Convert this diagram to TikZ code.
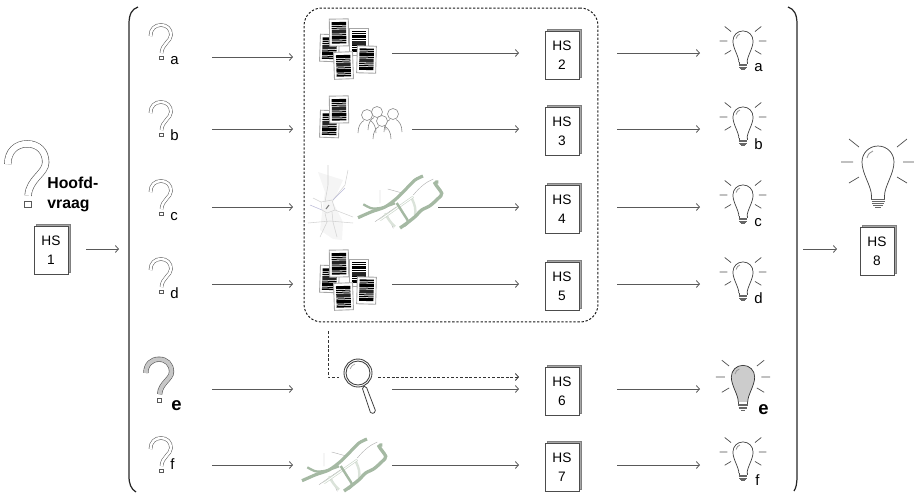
\documentclass[tikz,border=0pt]{standalone}
\usepackage{fontspec}
\setmainfont{Liberation Sans}
\usetikzlibrary{arrows.meta,shadows}
\definecolor{rivergreen}{HTML}{A5B9A3}
\definecolor{roadgray}{HTML}{D2D2D2}
\tikzset{
    flow/.style={draw=black!65, line width=0.45pt, -{Straight Barb[length=1.8pt,width=4pt]}},
    dashlink/.style={draw=black!80, line width=0.45pt, dash pattern=on 1.6pt off 1pt},
    hsbox/.style={draw=black!70, fill=white, line width=0.45pt, minimum width=0.68cm, minimum height=0.96cm,
        inner sep=0pt, align=center, font=\fontsize{7.8}{11}\selectfont, execute at begin node={\rule{0pt}{7.4pt}},
        copy shadow={shadow xshift=0.04cm, shadow yshift=0.04cm, draw=black!50, fill=black!35}},
    lbl/.style={anchor=base west, inner sep=0pt, font=\fontsize{8.5}{10}\selectfont},
    lblbold/.style={lbl, font=\fontsize{10.5}{12}\selectfont\bfseries},
    qtube/.style={draw=black!65, line width=0.3pt, double=white, double distance=0.05cm},
    bulbglass/.style={draw=black!75, line width=0.4pt, fill=white},
    qmark/.pic={
        \draw[qtube] (1.5,12) .. controls (1.5,5) and (6,1) .. (12,1) .. controls (18,1) and (22,5) .. (22,11)
            .. controls (22,17) and (13,20) .. (12.5,29);
        \draw[draw=black!65, line width=0.3pt] (10.5,32) rectangle (14,35.5);
    },
    bulb/.pic={
        \draw[bulbglass] (-6.5,34) .. controls (-6.5,24) and (-16,12) .. (-16,0)
            .. controls (-16,-9) and (-9,-16) .. (0,-16) .. controls (9,-16) and (16,-9) .. (16,0)
            .. controls (16,12) and (6.5,24) .. (6.5,34);
        \draw[black!70, line width=0.35pt] (-6.5,34) -- (-6.5,37) (6.5,34) -- (6.5,37);
        \foreach \by/\bw in {37/7, 39/6.5, 41/6, 43/5, 45/3}
            \draw[black!60, line width=0.3pt] (-\bw,\by) -- (\bw,\by);
        \draw[black!40, line width=0.5pt] (-11,-4) .. controls (-10,-8) and (-8,-10) .. (-5,-11);
        \draw[black!70, line width=0.4pt] (-37,0) -- (-25,0) (25,0) -- (37,0)
            (-29,-23) -- (-19,-15) (29,-23) -- (19,-15) (-29,21) -- (-19,15) (29,21) -- (19,15);
    },
    docsheet/.pic={
        \draw[draw=black!35, line width=0.5pt, fill=white] (-9.5,-13.5) rectangle (9.5,13.5);
        \foreach \sy/\sh/\sc in {-10.5/3/black, -6.7/1/black, -4.8/1/black, -3/4/black!85, 1.8/1/black, 3.5/3.5/black, 7.8/1/black, 9.5/1.5/black}
            \fill[\sc] (-7.2,\sy) rectangle (7.2,\sy+\sh);
    },
    docstack/.pic={
        \pic[rotate=-2] at (9.5,30) {docsheet};
        \pic[rotate=1] at (19,14.5) {docsheet};
        \pic[yscale=-1] at (39,23.5) {docsheet};
        \pic[rotate=2] at (23.5,47.5) {docsheet};
        \pic[rotate=-1.5,yscale=-1] at (46.5,41.5) {docsheet};
    },
    person/.pic={
        \path[draw=black!45, line width=0.35pt] (-9,18) .. controls (-9,11) and (-6,7) .. (-3,5.5);
        \path[draw=black!45, line width=0.35pt] (3,5.5) .. controls (6,7) and (9,11) .. (9,18);
        \draw[draw=black!45, line width=0.35pt, fill=white] (0,0) circle (5.5);
    },
    greenmap/.pic={
        \draw[black!30, line width=0.25pt] (22,-27) -- (22,-13.7) (29.7,-28) -- (45.3,-23.7)
            (55.3,-22) .. controls (62,-30) and (68,-35) .. (75.3,-38) (17,4.7) -- (38.7,-10.3) (35.3,11.3) -- (29.3,-2);
        \draw[rivergreen!40, line width=1.4pt] (53.7,-18.7) .. controls (57,-12) and (58,-8) .. (57,-2);
        \draw[rivergreen!40, line width=1.4pt] (27,-3.7) .. controls (30,2) and (33,6) .. (37,9.7);
        \draw[rivergreen!60, line width=0.35pt, double=white, double distance=0.02cm] (22,3) -- (55.3,-20.3);
        \draw[rivergreen, line width=1.8pt] plot[smooth] coordinates {(0,0.7) (13.7,-5.3) (27,-10) (38.7,-18.7) (48.7,-28.7) (57,-37) (65,-41)};
        \draw[rivergreen, line width=1.3pt] plot[smooth] coordinates {(5.3,-12.7) (13.7,-8.7) (23.7,-9.3) (37,-13.7)};
        \draw[rivergreen, line width=1.9pt] plot[smooth] coordinates {(42,11) (48.7,6.3) (57,-0.3) (63.7,-7) (72,-11.3) (80.3,-18.7) (83.7,-23.7) (77,-33.7) (80.3,-35)};
        \draw[rivergreen, line width=1.4pt] plot[smooth] coordinates {(38.7,-14) (45,-4) (50,4.7) (46,9)};
    },
}
\begin{document}
\begin{tikzpicture}[x=0.02cm,y=-0.02cm]
\useasboundingbox (0,0) rectangle (914,495);

\draw[black!85, line width=0.7pt] (138,7) .. controls (132,9) and (129,14) .. (129,24) -- (129,476) .. controls (129,484) and (131,489) .. (136,492);
\draw[black!85, line width=0.7pt] (788,7) .. controls (794,9) and (797,14) .. (797,24) -- (797,476) .. controls (797,484) and (796,488) .. (794,491);
\node[draw=black!90, line width=0.55pt, dash pattern=on 1.3pt off 1pt, rounded corners=10pt, minimum width=5.88cm, minimum height=6.28cm, inner sep=0pt] (kader) at (451,165) {};

\pic[scale=1.85, qtube/.style={draw=black!65, line width=0.35pt, double=white, double distance=0.12cm}] at (5,142) {qmark};
\node[anchor=north west, inner sep=0pt, align=left, font=\fontsize{9}{11}\selectfont\bfseries] (hoofd) at (47,177) {Hoofd-\\vraag};
\node[hsbox] (hs1) at (51,250) {HS\\1};
\coordinate (hs1out) at (86,249);
\coordinate (haakin) at (119,249);
\draw[flow] (hs1out) -- (haakin);

\pic at (149,24) {qmark};
\pic at (149,101) {qmark};
\pic at (149,180) {qmark};
\pic at (149,258) {qmark};
\pic[scale=1.25, qtube/.style={draw=black!65, line width=0.35pt, double=black!22, double distance=0.08cm}] at (144,358) {qmark};
\pic at (149,437) {qmark};
\node[lbl] (la) at (170,64) {a};
\node[lbl] (lb) at (170,140) {b};
\node[lbl] (lc) at (170,220) {c};
\node[lbl] (ld) at (170,298) {d};
\node[lblbold] (le) at (171,410) {e};
\node[lbl] (lf) at (170,469) {f};

\coordinate (qain) at (212,57);
\coordinate (qaout) at (293,57);
\coordinate (qbin) at (212,129);
\coordinate (qbout) at (293,129);
\coordinate (qcin) at (212,207);
\coordinate (qcout) at (293,207);
\coordinate (qdin) at (212,284);
\coordinate (qdout) at (293,284);
\coordinate (qein) at (212,389);
\coordinate (qeout) at (293,389);
\coordinate (qfin) at (212,465);
\coordinate (qfout) at (293,465);
\draw[flow] (qain) -- (qaout);
\draw[flow] (qbin) -- (qbout);
\draw[flow] (qcin) -- (qcout);
\draw[flow] (qdin) -- (qdout);
\draw[flow] (qein) -- (qeout);
\draw[flow] (qfin) -- (qfout);

\pic at (320,18) {docstack};
\pic[rotate=-2] at (329.5,124) {docsheet};
\pic[rotate=1] at (339,109.5) {docsheet};
\pic at (377,112) {person};
\pic at (367,115) {person};
\pic at (393,114) {person};
\pic at (382,121) {person};
\pic at (320,249) {docstack};

\fill[black!4] (318,172) -- (343,180) -- (333,202) -- (343,222) -- (342,240) -- (333,239) -- (320,230) -- (323,205) -- (325,192) -- cycle;
\draw[roadgray, line width=0.3pt] (321,202) -- (332,200) -- (335,210) -- (327,213) -- (322,210) -- cycle;
\draw[roadgray, line width=0.3pt] (328,165) -- (328,185) -- (325,202) (348,170) -- (345,185) -- (333,200)
    (308,223) -- (330,221) -- (353,223) (335,210) -- (353,217) (313,198) -- (321,202)
    (325,213) -- (327,222) -- (320,237) (332,212) -- (333,222) -- (337,237);
\draw[blue!12!roadgray, line width=0.3pt] (322,210) -- (310,205) (333,200) -- (345,188);
\draw[black!50, line width=0.6pt] (326,209) -- (329,205);
\pic at (358,217) {greenmap};
\pic at (302,480) {greenmap};

\draw[black!75, line width=0.5pt] (358,373) circle (14);
\draw[black!75, line width=0.5pt] (358,373) circle (12);
\draw[black!35, line width=0.4pt] (350,369) .. controls (351,366) and (353,365) .. (355,364);
\draw[black!75, line width=0.45pt, rounded corners=1pt] (362,387) -- (366,386) -- (376,412) -- (371,414) -- cycle;

\coordinate (dashstart) at (328,331);
\coordinate (dashknik) at (328,377);
\coordinate (loepin) at (339,377);
\coordinate (loepout) at (378,377);
\coordinate (hs6dash) at (519,377);
\draw[dashlink] (dashstart) -- (dashknik) -- (loepin);
\draw[dashlink, -{Straight Barb[length=1.8pt,width=4pt]}] (loepout) -- (hs6dash);

\node[hsbox] (hs2) at (562,55) {HS\\2};
\node[hsbox] (hs3) at (562,131.5) {HS\\3};
\node[hsbox] (hs4) at (562,209.5) {HS\\4};
\node[hsbox] (hs5) at (562,286.5) {HS\\5};
\node[hsbox] (hs6) at (562,391.5) {HS\\6};
\node[hsbox] (hs7) at (562,467.5) {HS\\7};
\node[hsbox] (hs8) at (877,251) {HS\\8};

\coordinate (mapa) at (392,53);
\coordinate (hs2in) at (519,53);
\coordinate (mapb) at (412,129);
\coordinate (hs3in) at (519,129);
\coordinate (mapc) at (438,207);
\coordinate (hs4in) at (519,207);
\coordinate (mapd) at (392,284);
\coordinate (hs5in) at (519,284);
\coordinate (mape) at (392,389);
\coordinate (hs6in) at (519,389);
\coordinate (mapf) at (392,465);
\coordinate (hs7in) at (519,465);
\draw[flow] (mapa) -- (hs2in);
\draw[flow] (mapb) -- (hs3in);
\draw[flow] (mapc) -- (hs4in);
\draw[flow] (mapd) -- (hs5in);
\draw[flow] (mape) -- (hs6in);
\draw[flow] (mapf) -- (hs7in);

\coordinate (hs2out) at (617,53);
\coordinate (bulbain) at (700,53);
\coordinate (hs3out) at (617,129);
\coordinate (bulbbin) at (700,129);
\coordinate (hs4out) at (617,207);
\coordinate (bulbcin) at (700,207);
\coordinate (hs5out) at (617,284);
\coordinate (bulbdin) at (700,284);
\coordinate (hs6out) at (617,389);
\coordinate (bulbein) at (700,389);
\coordinate (hs7out) at (617,465);
\coordinate (bulbfin) at (700,465);
\draw[flow] (hs2out) -- (bulbain);
\draw[flow] (hs3out) -- (bulbbin);
\draw[flow] (hs4out) -- (bulbcin);
\draw[flow] (hs5out) -- (bulbdin);
\draw[flow] (hs6out) -- (bulbein);
\draw[flow] (hs7out) -- (bulbfin);

\pic[scale=0.63] at (743,41) {bulb};
\pic[scale=0.63] at (743,117) {bulb};
\pic[scale=0.63] at (743,195) {bulb};
\pic[scale=0.63] at (743,272) {bulb};
\pic[scale=0.73, bulbglass/.style={draw=black!80, line width=0.4pt, fill=black!20}] at (743,377) {bulb};
\pic[scale=0.63] at (743,452) {bulb};
\node[lbl] (ba) at (754,71) {a};
\node[lbl] (bb) at (754,149) {b};
\node[lbl] (bc) at (754,226) {c};
\node[lbl] (bd) at (754,303) {d};
\node[lblbold] (be) at (758,414) {e};
\node[lbl] (bf) at (755,485) {f};

\pic at (878,162) {bulb};
\coordinate (haakout) at (803,249);
\coordinate (hs8in) at (837,249);
\draw[flow] (haakout) -- (hs8in);
\end{tikzpicture}
\end{document}
